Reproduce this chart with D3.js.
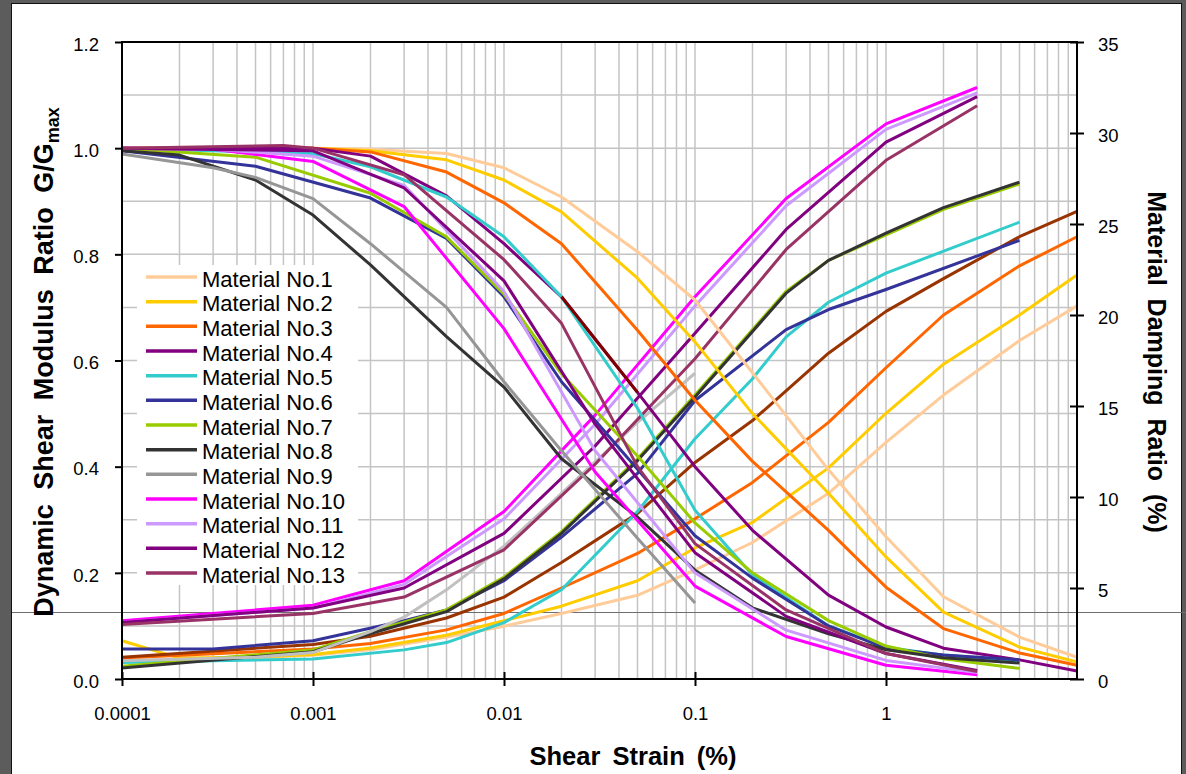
<!DOCTYPE html>
<html>
<head>
<meta charset="utf-8">
<script src="https://cdn.jsdelivr.net/npm/d3@7"></script>
<style>
  body { margin: 0; background: #5c5c5c; }
  svg { display: block; font-family: "Liberation Sans", Arial, sans-serif; }
</style>
</head>
<body>
<svg id="chart" width="1186" height="774"></svg>
<script>

// ---- data ----
const strainTicks = [0.0001, 0.001, 0.01, 0.1, 1]
const strainLabels = ['0.0001', '0.001', '0.01', '0.1', '1']
const gTicks = [0, 0.2, 0.4, 0.6, 0.8, 1.0, 1.2]
const dTicks = [0, 5, 10, 15, 20, 25, 30, 35]

const materials = ['Material No.1', 'Material No.2', 'Material No.3', 'Material No.4', 'Material No.5',
  'Material No.6', 'Material No.7', 'Material No.8', 'Material No.9', 'Material No.10',
  'Material No.11', 'Material No.12', 'Material No.13']
const gColors = ['#FFCC99', '#FFCC00', '#FF6600', '#800080', '#33CCCC', '#333399', '#99CC00',
  '#333333', '#969696', '#FF00FF', '#CC99FF', '#800080', '#993366']
const dColors = ['#FFCC99', '#FFCC00', '#FF6600', '#993300', '#33CCCC', '#333399', '#99CC00',
  '#333333', '#C0C0C0', '#FF00FF', '#CC99FF', '#800080', '#993366']

// G/Gmax curves, [strain %, G/Gmax]
const g1 = [[1e-4,1.0],[1e-3,1.0],[2e-3,0.998],[5e-3,0.99],[0.01,0.963],[0.02,0.908],[0.05,0.805],[0.1,0.714],[0.2,0.577],[0.5,0.394],[1,0.268],[2,0.155],[5,0.079],[10,0.041]]
const g2 = [[1e-4,1.0],[1e-3,1.0],[2e-3,0.995],[5e-3,0.978],[0.01,0.94],[0.02,0.88],[0.05,0.755],[0.1,0.635],[0.2,0.50],[0.5,0.35],[1,0.23],[2,0.126],[5,0.06],[10,0.032]]
const g3 = [[1e-4,1.0],[1e-3,1.0],[2e-3,0.993],[5e-3,0.955],[0.01,0.897],[0.02,0.82],[0.05,0.657],[0.1,0.525],[0.2,0.41],[0.5,0.28],[1,0.173],[2,0.095],[5,0.049],[10,0.026]]
const g4 = [[1e-4,1.0],[1e-3,1.0],[2e-3,0.985],[5e-3,0.91],[0.01,0.82],[0.02,0.72],[0.05,0.54],[0.1,0.40],[0.2,0.28],[0.5,0.158],[1,0.098],[2,0.058],[5,0.036],[10,0.015]]
const g4dark = [[0.02,0.72],[0.05,0.54]]
const g5 = [[1e-4,1.0],[1e-3,0.99],[2e-3,0.965],[5e-3,0.908],[0.01,0.833],[0.02,0.72],[0.05,0.51],[0.1,0.318],[0.2,0.196],[0.5,0.10],[1,0.06],[2,0.045],[5,0.033]]
const g6 = [[1e-4,0.995],[5e-4,0.966],[2e-3,0.906],[5e-3,0.83],[0.01,0.72],[0.02,0.56],[0.05,0.395],[0.1,0.27],[0.2,0.19],[0.5,0.10],[1,0.058],[2,0.045],[5,0.036]]
const g7 = [[1e-4,1.0],[5e-4,0.983],[2e-3,0.915],[5e-3,0.833],[0.01,0.725],[0.02,0.575],[0.05,0.42],[0.1,0.294],[0.2,0.20],[0.5,0.11],[1,0.062],[2,0.038],[5,0.02]]
const g8 = [[1e-4,0.995],[2e-4,0.987],[5e-4,0.94],[1e-3,0.874],[2e-3,0.78],[5e-3,0.645],[0.01,0.55],[0.02,0.415],[0.05,0.305],[0.1,0.205],[0.2,0.134],[0.5,0.085],[1,0.055],[2,0.04],[5,0.03]]
const g9 = [[1e-4,0.989],[3e-4,0.963],[5e-4,0.945],[1e-3,0.905],[2e-3,0.82],[5e-3,0.70],[0.01,0.56],[0.02,0.43],[0.05,0.265],[0.1,0.143]]
const g10 = [[1e-4,1.0],[3e-4,0.998],[1e-3,0.975],[3e-3,0.89],[0.01,0.66],[0.03,0.39],[0.1,0.175],[0.3,0.08],[1,0.026],[3,0.008]]
const g11 = [[1e-4,1.0],[3e-4,0.998],[1e-3,0.985],[3e-3,0.93],[0.01,0.73],[0.03,0.43],[0.1,0.20],[0.3,0.092],[1,0.035],[3,0.012]]
const g12 = [[1e-4,1.0],[1e-3,0.995],[3e-3,0.925],[0.01,0.75],[0.03,0.48],[0.1,0.238],[0.3,0.118],[1,0.048],[3,0.016]]
const g13 = [[1e-4,1.0],[7e-4,1.005],[1e-3,1.0],[3e-3,0.95],[0.01,0.79],[0.02,0.67],[0.05,0.40],[0.1,0.255],[0.3,0.13],[1,0.048],[3,0.014]]

// damping curves, [strain %, damping %]
const d1 = [[1e-4,1.0],[1e-3,1.3],[2e-3,1.6],[5e-3,2.3],[0.01,2.9],[0.02,3.6],[0.05,4.6],[0.1,6.0],[0.2,7.5],[0.5,10.2],[1,13.0],[2,15.6],[5,18.6],[10,20.5]]
const d2 = [[1e-4,2.1],[2e-4,1.15],[5e-4,1.2],[1e-3,1.35],[2e-3,1.7],[5e-3,2.4],[0.01,3.2],[0.02,4.0],[0.05,5.4],[0.1,7.2],[0.2,8.6],[0.5,11.6],[1,14.6],[2,17.3],[5,20.0],[10,22.2]]
const d3s = [[1e-4,1.15],[1e-3,1.65],[2e-3,1.95],[5e-3,2.7],[0.01,3.6],[0.02,5.0],[0.05,6.9],[0.1,8.8],[0.2,10.8],[0.5,14.1],[1,17.1],[2,20.0],[5,22.7],[10,24.3]]
const d4 = [[1e-4,1.2],[1e-3,1.9],[2e-3,2.35],[5e-3,3.35],[0.01,4.5],[0.02,6.4],[0.05,9.1],[0.1,11.9],[0.2,14.2],[0.5,17.9],[1,20.2],[2,22.0],[5,24.3],[10,25.7]]
const d5 = [[1e-4,0.9],[1e-3,1.1],[3e-3,1.6],[5e-3,2.0],[0.01,3.1],[0.02,4.9],[0.05,9.2],[0.1,13.2],[0.2,16.5],[0.3,18.8],[0.5,20.7],[1,22.3],[5,25.1]]
const d6 = [[1e-4,1.65],[3e-4,1.65],[1e-3,2.1],[3e-3,3.2],[5e-3,3.8],[0.01,5.4],[0.02,7.8],[0.05,11.3],[0.1,15.3],[0.3,19.2],[0.5,20.3],[1,21.4],[5,24.1]]
const d7 = [[1e-4,0.7],[1e-3,1.6],[2e-3,2.6],[5e-3,3.8],[0.01,5.6],[0.02,8.1],[0.05,12.1],[0.1,15.6],[0.3,21.3],[0.5,23.0],[1,24.4],[2,25.8],[5,27.2]]
const d8 = [[1e-4,0.6],[1e-3,1.5],[2e-3,2.5],[5e-3,3.7],[0.01,5.5],[0.02,8.0],[0.05,12.0],[0.1,15.5],[0.3,21.2],[0.5,23.0],[1,24.5],[2,25.9],[5,27.3]]
const d9 = [[1e-4,1.0],[5e-4,1.2],[1e-3,1.45],[2e-3,2.6],[3e-3,3.4],[5e-3,4.9],[0.01,7.3],[0.02,10.2],[0.05,14.1],[0.1,16.8]]
const d10 = [[1e-4,3.2],[1e-3,4.05],[3e-3,5.4],[0.01,9.2],[0.03,14.5],[0.1,21.0],[0.3,26.4],[1,30.5],[3,32.5]]
const d11 = [[1e-4,3.1],[1e-3,3.9],[3e-3,5.2],[0.01,8.8],[0.03,14.0],[0.1,20.5],[0.3,26.0],[1,30.2],[3,32.2]]
const d12 = [[1e-4,3.1],[1e-3,3.9],[3e-3,5.0],[0.01,8.0],[0.03,12.8],[0.1,19.0],[0.3,24.7],[1,29.5],[3,32.0]]
const d13 = [[1e-4,3.0],[1e-3,3.6],[3e-3,4.5],[0.01,7.1],[0.03,11.8],[0.1,17.6],[0.3,23.6],[1,28.5],[3,31.5]]

const gCurves = [g1, g2, g3, g4, g5, g6, g7, g8, g9, g10, g11, g12, g13]
const dCurves = [d1, d2, d3s, d4, d5, d6, d7, d8, d9, d10, d11, d12, d13]

// ---- layout ----
const W = 1186, H = 774
const mLeft = 122, mRight = 1077, mTop = 42, mBottom = 679

const svg = d3.select('#chart')

svg.append('rect').attr('width', W).attr('height', H).attr('fill', '#5c5c5c')
svg.append('rect')
  .attr('x', 11.5).attr('y', 3.5).attr('width', 1170).attr('height', H)
  .attr('fill', '#fff').attr('stroke', '#111').attr('stroke-width', 1)

const x = d3.scaleLog().domain([1e-4, 10]).range([mLeft, mRight])
const yG = d3.scaleLinear().domain([0, 1.2]).range([mBottom, mTop])
const yD = d3.scaleLinear().domain([0, 35]).range([mBottom, mTop])

// grid
const grid = svg.append('g').attr('stroke', '#c4c4c4').attr('stroke-width', 1.5)
grid.selectAll('.gv')
  .data(x.ticks().filter(t => t > 1.0001e-4 && t < 9.999))
  .enter().append('line')
  .attr('x1', d => x(d)).attr('x2', d => x(d))
  .attr('y1', mTop).attr('y2', mBottom)
grid.selectAll('.gh')
  .data(yG.ticks(12).filter(t => t > 0.05 && t < 1.15))
  .enter().append('line')
  .attr('x1', mLeft).attr('x2', mRight)
  .attr('y1', d => yG(d)).attr('y2', d => yG(d))

// stray screen line that crosses the whole screenshot
svg.append('line')
  .attr('x1', 12).attr('x2', 1186).attr('y1', 612.5).attr('y2', 612.5)
  .attr('stroke', '#6e6e6e').attr('stroke-width', 1)

// curves
const lineG = d3.line().x(d => x(d[0])).y(d => yG(d[1]))
const lineD = d3.line().x(d => x(d[0])).y(d => yD(d[1]))

const curves = svg.append('g')
  .attr('fill', 'none').attr('stroke-width', 3)
  .attr('stroke-linejoin', 'round')

curves.selectAll('.damp')
  .data(dCurves)
  .enter().append('path')
  .attr('class', 'damp')
  .attr('d', lineD)
  .attr('stroke', (d, i) => dColors[i])

curves.selectAll('.gmod')
  .data(gCurves)
  .enter().append('path')
  .attr('class', 'gmod')
  .attr('d', lineG)
  .attr('stroke', (d, i) => gColors[i])

curves.append('path')
  .datum(g4dark)
  .attr('d', lineG)
  .attr('stroke', '#800000')

// axes
const fontTick = 18.5

const axL = svg.append('g')
  .attr('transform', `translate(${mLeft},0)`)
  .call(d3.axisLeft(yG).tickValues(gTicks).tickFormat(d3.format('.1f'))
    .tickSizeInner(7).tickSizeOuter(0).tickPadding(16))
const axR = svg.append('g')
  .attr('transform', `translate(${mRight},0)`)
  .call(d3.axisRight(yD).tickValues(dTicks).tickSizeInner(7).tickSizeOuter(0).tickPadding(14))
const axB = svg.append('g')
  .attr('transform', `translate(0,${mBottom})`)
  .call(d3.axisBottom(x).tickValues(strainTicks).tickFormat((d, i) => strainLabels[i])
    .tickSizeInner(7).tickSizeOuter(0))

for (const ax of [axL, axR, axB]) {
  ax.select('.domain').remove()
  ax.attr('font-size', fontTick).attr('font-family', '"Liberation Sans", Arial, sans-serif')
  ax.selectAll('.tick line').attr('stroke', '#000').attr('stroke-width', 2)
  ax.selectAll('.tick text').attr('fill', '#000')
}
axL.selectAll('.tick text').attr('dy', 8.3)
axR.selectAll('.tick line').attr('x1', -7).attr('x2', 7)
axR.selectAll('.tick text').attr('x', 21).attr('dy', 8.5)
axB.selectAll('.tick line').attr('y1', -7).attr('y2', 7)
axB.selectAll('.tick text').attr('y', 41).attr('dy', 0)

svg.append('rect')
  .attr('x', mLeft).attr('y', mTop)
  .attr('width', mRight - mLeft).attr('height', mBottom - mTop)
  .attr('fill', 'none').attr('stroke', '#000').attr('stroke-width', 2)

// titles
svg.append('text')
  .attr('x', 633).attr('y', 765)
  .attr('text-anchor', 'middle')
  .attr('font-size', 25.5).attr('font-weight', 'bold')
  .style('word-spacing', '5px')
  .text('Shear Strain (%)')

const tl = svg.append('text')
  .attr('transform', 'translate(53,362) rotate(-90)')
  .attr('text-anchor', 'middle')
  .attr('font-size', 27).attr('font-weight', 'bold')
  .style('word-spacing', '7px')
tl.append('tspan').text('Dynamic Shear Modulus Ratio G/G')
tl.append('tspan').attr('font-size', 18).attr('dy', 6).text('max')

svg.append('text')
  .attr('transform', 'translate(1148,362) rotate(90)')
  .attr('text-anchor', 'middle')
  .attr('font-size', 25).attr('font-weight', 'bold')
  .style('word-spacing', '6px')
  .text('Material Damping Ratio (%)')

// legend
const leg = svg.append('g')
leg.append('rect')
  .attr('x', 137).attr('y', 265).attr('width', 221).attr('height', 320)
  .attr('fill', '#fff')

const rowY = i => 277 + i * 24.67
const item = leg.selectAll('.item')
  .data(materials)
  .enter().append('g')
  .attr('class', 'item')
item.append('line')
  .attr('x1', 146).attr('x2', 197)
  .attr('y1', (d, i) => rowY(i)).attr('y2', (d, i) => rowY(i))
  .attr('stroke', (d, i) => gColors[i]).attr('stroke-width', 3.5)
item.append('text')
  .attr('x', 202).attr('y', (d, i) => rowY(i) + 9.7)
  .attr('font-size', 22)
  .text(d => d)

</script>
</body>
</html>
